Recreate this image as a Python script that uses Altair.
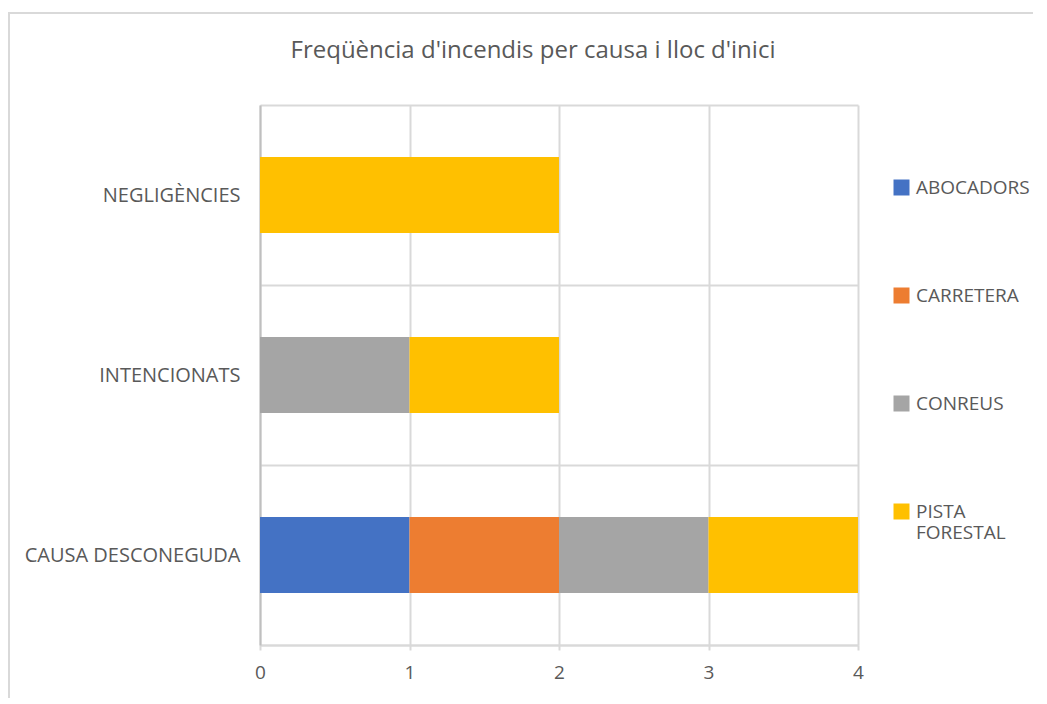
import altair as alt
import pandas as pd

causes = ["NEGLIGÈNCIES", "INTENCIONATS", "CAUSA DESCONEGUDA"]
locs = ["ABOCADORS", "CARRETERA", "CONREUS", "PISTA FORESTAL"]
colors = ["#4472C4", "#ED7D31", "#A5A5A5", "#FFC000"]
abocadors = [0, 0, 1]
carretera = [0, 0, 1]
conreus = [0, 1, 1]
pista_forestal = [2, 1, 1]
x_ticks = [0, 1, 2, 3, 4]
title_text = "Freqüència d'incendis per causa i lloc d'inici"

series = [abocadors, carretera, conreus, pista_forestal]
rows = []
for i, (loc, vals) in enumerate(zip(locs, series)):
    for cause, v in zip(causes, vals):
        if v > 0:
            rows.append({"causa": cause, "lloc": loc, "n": v, "ord": i})
df = pd.DataFrame(rows)

FONT = "Open Sans"
TXT = "#595959"
GRID = "#D9D9D9"

border = alt.Chart(pd.DataFrame({"a": [0]})).mark_rect(
    fillOpacity=0, stroke=GRID, strokeWidth=2
).encode(
    x=alt.value(-251), x2=alt.value(900), y=alt.value(-92), y2=alt.value(700)
)

bars = alt.Chart(df).mark_bar(size=76).encode(
    y=alt.Y(
        "causa:N",
        sort=causes,
        scale=alt.Scale(paddingInner=0, paddingOuter=0),
        axis=alt.Axis(
            title=None,
            grid=True,
            tickBand="extent",
            ticks=False,
            gridColor=GRID,
            gridWidth=2,
            domainColor="#BFBFBF",
            domainWidth=2,
            labelFont=FONT,
            labelFontSize=20,
            labelColor=TXT,
            labelPadding=20,
            labelLimit=400,
        ),
    ),
    x=alt.X(
        "sum(n):Q",
        scale=alt.Scale(domain=[0, 4], nice=False),
        axis=alt.Axis(
            title=None,
            values=x_ticks,
            grid=True,
            gridColor=GRID,
            gridWidth=2,
            domainColor=GRID,
            domainWidth=2,
            tickColor=GRID,
            tickWidth=2,
            tickSize=5,
            labelFont=FONT,
            labelFontSize=19,
            labelColor=TXT,
            labelPadding=13,
            labelFlush=False,
        ),
    ),
    color=alt.Color(
        "lloc:N",
        sort=locs,
        scale=alt.Scale(domain=locs, range=colors),
        legend=alt.Legend(
            title=None,
            orient="none",
            legendX=632,
            legendY=73,
            padding=0,
            symbolType="square",
            symbolSize=256,
            symbolStrokeWidth=0,
            labelFont=FONT,
            labelFontSize=19,
            labelColor=TXT,
            labelOffset=5,
            rowPadding=88,
            labelLimit=300,
            labelExpr="datum.label == 'PISTA FORESTAL' ? ['PISTA', 'FORESTAL'] : datum.label",
        ),
    ),
    order=alt.Order("ord:Q"),
)

chart = alt.layer(border, bars).properties(
    width=598,
    height=540,
    autosize=alt.AutoSizeParams(type="none"),
    padding={"left": 252, "top": 97, "right": 175, "bottom": 53},
    title=alt.TitleParams(
        text=title_text,
        font=FONT,
        fontSize=24,
        fontWeight="normal",
        color=TXT,
        anchor="middle",
        frame="group",
        baseline="alphabetic",
        offset=-70,
        dx=-26,
    ),
).configure_view(strokeWidth=0)

chart.save("out.html", embed_options={"renderer": "svg", "actions": False})
